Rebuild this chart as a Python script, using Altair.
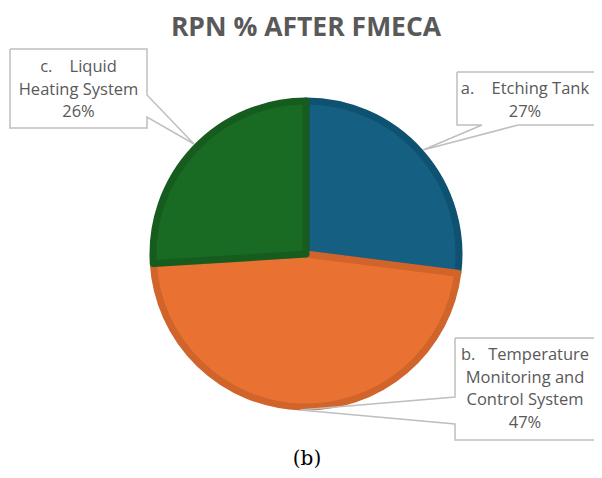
import altair as alt
import pandas as pd

# ---- data ----
categories = ["a. Etching Tank",
              "b. Temperature Monitoring and Control System",
              "c. Liquid Heating System"]
label_lines = [["a.\u00a0\u00a0\u00a0\u00a0Etching Tank"],
               ["b.\u00a0\u00a0\u00a0Temperature", "Monitoring and", "Control System"],
               ["c.\u00a0\u00a0\u00a0\u00a0Liquid", "Heating System"]]
rpn_pct = [27, 47, 26]
fills = ["#156082", "#E97132", "#196B24"]
borders = ["#0F5170", "#D0642B", "#165C1F"]
title_text = "RPN % AFTER FMECA"
caption_text = "(b)"

# ---- layout (image pixel coords, shifted by page margin) ----
OFF = 8
CX, CY = 306 - OFF, 254 - OFF
label_pos = [(525, 89), (525, 355), (78.5, 67)]   # centre of first line
callouts = [
    [(457, 72), (610, 72), (610, 125), (518, 125), (423, 150), (482, 125), (457, 125), (457, 72)],
    [(455, 338), (610, 338), (610, 440), (455, 440), (455, 424), (300, 410), (455, 397), (455, 338)],
    [(10, 49), (147, 49), (147, 95), (194, 144), (147, 117), (147, 128), (10, 128), (10, 49)],
]

pie_df = pd.DataFrame({"category": categories, "value": rpn_pct, "order": [0, 1, 2]})

lab_df = pd.DataFrame({
    "text": ["\n".join(l + [f"{p}%"]) for l, p in zip(label_lines, rpn_pct)],
    "x": [p[0] - OFF for p in label_pos],
    "y": [p[1] - OFF for p in label_pos],
})

rows = []
for i, pts in enumerate(callouts):
    for j, (x, y) in enumerate(pts):
        rows.append({"id": i, "o": j, "x": x - OFF, "y": y - OFF})
call_df = pd.DataFrame(rows)

pie = alt.Chart(pie_df).mark_arc(outerRadius=153, strokeWidth=7, strokeJoin="round").encode(
    theta=alt.Theta("value:Q", stack=True),
    order=alt.Order("order:Q"),
    color=alt.Color("category:N", scale=alt.Scale(domain=categories, range=fills), legend=None),
    stroke=alt.Stroke("category:N", scale=alt.Scale(domain=categories, range=borders), legend=None),
    x=alt.value(CX), y=alt.value(CY),
)

outline = alt.Chart(call_df).mark_line(color="#BFBFBF", strokeWidth=1.5, strokeJoin="miter").encode(
    x=alt.X("x:Q", scale=None), y=alt.Y("y:Q", scale=None),
    detail="id:N", order="o:Q",
)

labels = alt.Chart(lab_df).mark_text(
    lineBreak="\n", align="center", baseline="middle", fontSize=16.5,
    font="Open Sans", color="#595959", lineHeight=22.5,
).encode(x=alt.X("x:Q", scale=None), y=alt.Y("y:Q", scale=None), text="text:N")

title = alt.Chart(pd.DataFrame({"t": [title_text]})).mark_text(
    font="Open Sans", fontSize=26.5, fontWeight="bold", color="#595959",
    align="center", baseline="middle",
).encode(x=alt.value(306 - OFF), y=alt.value(28 - OFF), text="t:N")

caption = alt.Chart(pd.DataFrame({"t": [caption_text]})).mark_text(
    font="DejaVu Serif", fontSize=20, color="#000000",
    align="center", baseline="middle",
).encode(x=alt.value(307 - OFF), y=alt.value(459 - OFF), text="t:N")

chart = alt.layer(pie, outline, labels, title, caption).properties(
    width=586, height=462, padding=0, autosize="none", background="white",
).configure_view(stroke=None)

chart.save("out.html", embed_options={"renderer": "svg", "actions": False})
